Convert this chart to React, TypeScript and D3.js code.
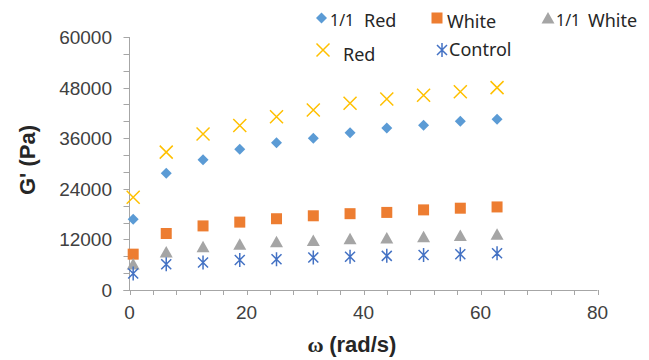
import * as d3 from 'd3';
import { useEffect, useRef } from 'react';

// angular frequency (rad/s)
const omega = [0.63, 6.28, 12.57, 18.85, 25.13, 31.42, 37.7, 43.98, 50.27, 56.55, 62.83];

// G' (Pa)
const redHalf = [16800, 27700, 30900, 33400, 34900, 36000, 37300, 38400, 39100, 40000, 40500];
const white = [8500, 13400, 15200, 16100, 16900, 17600, 18100, 18400, 19000, 19400, 19700];
const whiteHalf = [5900, 8800, 10000, 10600, 11200, 11500, 11900, 12100, 12400, 12700, 13000];
const red = [22000, 32700, 37000, 39000, 41100, 42700, 44300, 45300, 46200, 47000, 48000];
const control = [3900, 6100, 6500, 7100, 7300, 7700, 7900, 8100, 8300, 8500, 8700];

const yTicks = [0, 12000, 24000, 36000, 48000, 60000];
const xTicks = [0, 20, 40, 60, 80];

type Marker = 'diamond' | 'square' | 'triangle' | 'x' | 'asterisk';

type Series = {
    prefix: string;
    name: string;
    values: number[];
    color: string;
    marker: Marker;
};

const series: Series[] = [
    { prefix: '1/1', name: 'Red', values: redHalf, color: '#5b9bd5', marker: 'diamond' },
    { prefix: '', name: 'White', values: white, color: '#ed7d31', marker: 'square' },
    { prefix: '1/1', name: 'White', values: whiteHalf, color: '#a5a5a5', marker: 'triangle' },
    { prefix: '', name: 'Red', values: red, color: '#ffc000', marker: 'x' },
    { prefix: '', name: 'Control', values: control, color: '#4472c4', marker: 'asterisk' },
];

// legend slots (marker x/y, text x, text baseline)
const legendLayout = [
    { mx: 321.5, my: 18, tx: 330, nx: 364, ty: 27 },
    { mx: 437, my: 18, tx: 447, nx: 447, ty: 28 },
    { mx: 548, my: 19, tx: 556, nx: 588, ty: 27 },
    { mx: 323, my: 50, tx: 343, nx: 343, ty: 61 },
    { mx: 442, my: 50, tx: 449, nx: 449, ty: 56 },
];

const width = 649;
const height = 360;
const plot = { left: 129.5, right: 597.5, top: 37, bottom: 290 };

const xScale = d3.scaleLinear().domain([0, 80]).range([plot.left, plot.right]);
const yScale = d3.scaleLinear().domain([0, 60000]).range([plot.bottom, plot.top]);

function drawMarker(g: d3.Selection<SVGGElement, unknown, null, undefined>, marker: Marker, color: string) {
    if (marker === 'diamond') {
        g.append('path').attr('d', 'M0,-5.5L5.5,0L0,5.5L-5.5,0Z').attr('fill', color);
    } else if (marker === 'square') {
        g.append('rect').attr('x', -5.5).attr('y', -5.5).attr('width', 11).attr('height', 11).attr('fill', color);
    } else if (marker === 'triangle') {
        g.append('path').attr('d', 'M0,-7L6.5,4.5L-6.5,4.5Z').attr('fill', color);
    } else if (marker === 'x') {
        g.append('path').attr('d', 'M-6.5,-6.5L6.5,6.5M6.5,-6.5L-6.5,6.5')
            .attr('stroke', color).attr('stroke-width', 1.5).attr('fill', 'none');
    } else {
        g.append('path').attr('d', 'M0,-7L0,7M-5,-5L5,5M5,-5L-5,5')
            .attr('stroke', color).attr('stroke-width', 1.5).attr('fill', 'none');
    }
}

const App = () => {
    const ref = useRef<SVGSVGElement | null>(null);

    useEffect(() => {
        const svg = d3.select(ref.current);
        svg.selectAll('*').remove();
        svg.attr('width', width).attr('height', height);

        const axisColor = '#a6a6a6';
        const tickFont = '"Liberation Sans", Arial, sans-serif';

        // y axis
        const yAxis = svg.append('g');
        yAxis.append('line')
            .attr('x1', plot.left).attr('x2', plot.left)
            .attr('y1', plot.top).attr('y2', plot.bottom)
            .attr('stroke', axisColor);
        yAxis.selectAll('.ytick')
            .data(d3.range(0, 60001, 4000))
            .enter()
            .append('line')
            .attr('x1', plot.left - 6).attr('x2', plot.left)
            .attr('y1', d => Math.round(yScale(d)) + 0.5)
            .attr('y2', d => Math.round(yScale(d)) + 0.5)
            .attr('stroke', axisColor);
        yAxis.selectAll('.ylab')
            .data(yTicks)
            .enter()
            .append('text')
            .attr('x', 112)
            .attr('y', d => yScale(d) + 7)
            .attr('text-anchor', 'end')
            .attr('font-family', tickFont)
            .attr('font-size', 19)
            .attr('fill', '#404040')
            .text(d => d);

        // x axis
        const xAxis = svg.append('g');
        xAxis.append('line')
            .attr('x1', plot.left - 6).attr('x2', plot.right)
            .attr('y1', plot.bottom + 0.5).attr('y2', plot.bottom + 0.5)
            .attr('stroke', axisColor);
        xAxis.selectAll('.xtick')
            .data(d3.range(0, 81, 4))
            .enter()
            .append('line')
            .attr('x1', d => Math.round(xScale(d)) + 0.5)
            .attr('x2', d => Math.round(xScale(d)) + 0.5)
            .attr('y1', plot.bottom).attr('y2', plot.bottom + 5)
            .attr('stroke', axisColor);
        xAxis.selectAll('.xlab')
            .data(xTicks)
            .enter()
            .append('text')
            .attr('x', d => xScale(d))
            .attr('y', 319)
            .attr('text-anchor', 'middle')
            .attr('font-family', tickFont)
            .attr('font-size', 19)
            .attr('fill', '#404040')
            .text(d => d);

        // axis titles
        svg.append('text')
            .attr('transform', 'translate(35,160) rotate(-90)')
            .attr('text-anchor', 'middle')
            .attr('font-family', tickFont)
            .attr('font-weight', 'bold')
            .attr('font-size', 22)
            .attr('fill', '#262626')
            .text("G' (Pa)");

        const xTitle = svg.append('text')
            .attr('x', 352)
            .attr('y', 352)
            .attr('text-anchor', 'middle')
            .attr('font-family', tickFont)
            .attr('font-weight', 'bold')
            .attr('font-size', 22)
            .attr('fill', '#262626');
        xTitle.append('tspan').attr('font-family', '"Liberation Serif", serif').text('ω ');
        xTitle.append('tspan').text('(rad/s)');

        // points
        series.forEach(s => {
            s.values.forEach((v, i) => {
                const g = svg.append('g')
                    .attr('transform', `translate(${xScale(omega[i])},${yScale(v)})`);
                drawMarker(g, s.marker, s.color);
            });
        });

        // legend
        series.forEach((s, i) => {
            const l = legendLayout[i];
            const g = svg.append('g').attr('transform', `translate(${l.mx},${l.my})`);
            drawMarker(g, s.marker, s.color);
            const legendFont = '"Noto Sans", sans-serif';
            if (s.prefix) {
                svg.append('text')
                    .attr('x', l.tx).attr('y', l.ty - 1)
                    .attr('font-family', legendFont)
                    .attr('font-size', 16)
                    .attr('fill', '#262626')
                    .text(s.prefix);
            }
            svg.append('text')
                .attr('x', l.nx).attr('y', l.ty)
                .attr('font-family', legendFont)
                .attr('font-size', 18)
                .attr('fill', '#262626')
                .text(s.name);
        });
    }, [ref]);

    return (
        <div style={{ position: 'absolute', left: 0, top: 0 }}>
            <svg ref={ref} style={{ display: 'block' }} />
        </div>
    );
};

export default App;
